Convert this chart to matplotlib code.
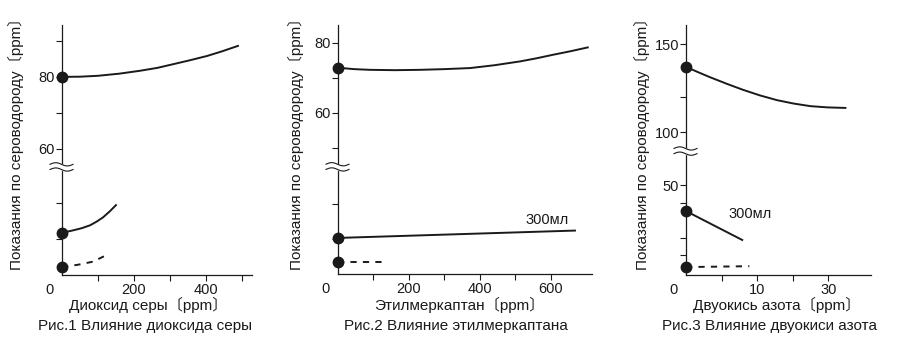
import numpy as np
import matplotlib.pyplot as plt

plt.rcParams["font.family"] = ["Liberation Sans", "Noto Sans CJK JP", "DejaVu Sans"]
plt.rcParams["font.size"] = 10.5
plt.rcParams["text.color"] = "#1a1a1a"

W, H = 901, 343

# Рис.1 - диоксид серы
so2_x = [0, 50, 100, 160, 217, 265, 308, 355, 403, 445, 489]
so2_y = [80, 80.05, 80.3, 80.9, 81.7, 82.5, 83.5, 84.6, 85.8, 87.1, 88.6]
so2_mid_x = [0, 31, 55, 78, 96, 114, 132, 150]
so2_mid_y = [11.7, 12.4, 13.0, 13.8, 14.8, 16.0, 17.6, 19.4]
so2_low_x = [0, 42, 86, 125]
so2_low_y = [2.3, 2.8, 3.7, 5.6]

# Рис.2 - этилмеркаптан
em_x = [0, 45, 90, 160, 231, 300, 372, 440, 513, 560, 606, 655, 704]
em_y = [72.9, 72.5, 72.3, 72.2, 72.3, 72.5, 72.8, 73.6, 74.7, 75.6, 76.6, 77.6, 78.7]
em_mid_x = [0, 668]
em_mid_y = [10.3, 12.4]
em_low_x = [0, 127]
em_low_y = [3.4, 3.4]

# Рис.3 - двуокись азота (x в делениях шкалы)
no2_x = [0, 1.7, 3.4, 5.8, 8.0, 10.4, 12.8, 15.1, 17.5, 19.9, 22.4]
no2_y = [137.1, 134.1, 131.2, 127.4, 124.1, 120.9, 118.2, 116.3, 114.8, 114.1, 113.8]
no2_mid_x = [0, 7.9]
no2_mid_y = [35.2, 18.8]
no2_low_x = [0, 8.9]
no2_low_y = [3.4, 3.9]

ylabel = "Показания по сероводороду〔ppm〕"
xlabels = ["Диоксид серы〔ppm〕", "Этилмеркаптан〔ppm〕", "Двуокись азота〔ppm〕"]
captions = ["Рис.1 Влияние диоксида серы", "Рис.2 Влияние этилмеркаптана",
            "Рис.3 Влияние двуокиси азота"]

INK = "#1a1a1a"


def px_axes(fig, x0, x1, ytop, ybot):
    return fig.add_axes([x0 / W, 1 - ybot / H, (x1 - x0) / W, (ybot - ytop) / H])


def draw_break(ax, yb):
    x0, x1 = ax.get_xlim()
    y0, y1 = ax.get_ylim()
    bb = ax.get_position()
    dx = (x1 - x0) / (bb.width * W)
    dy = (y1 - y0) / (bb.height * H)
    t = np.linspace(-12, 11, 60)
    wave = 1.6 * np.sin(np.pi * (t + 12) / 11.5)
    xs = t * dx
    top = yb + (2.6 + wave) * dy
    bot = yb + (-2.6 + wave) * dy
    ax.fill_between(xs, bot, top, color="white", zorder=4, clip_on=False)
    ax.plot(xs, top, color=INK, lw=0.8, zorder=5, clip_on=False)
    ax.plot(xs, bot, color=INK, lw=0.8, zorder=5, clip_on=False)


def style(ax, xlim, ylim, xt, xtl, yt, ytl):
    ax.set_xlim(*xlim)
    ax.set_ylim(*ylim)
    for s in ["top", "right"]:
        ax.spines[s].set_visible(False)
    for s in ["left", "bottom"]:
        ax.spines[s].set_linewidth(0.9)
        ax.spines[s].set_color(INK)
    ax.set_xticks(xt)
    ax.set_xticklabels(xtl)
    ax.set_yticks(yt)
    ax.set_yticklabels(ytl)
    ax.tick_params(direction="out", length=4, width=0.8, color=INK,
                   labelsize=10.5, labelcolor=INK)
    ax.tick_params(axis="y", pad=1)
    ax.tick_params(axis="x", pad=2)
    ax.annotate("0", xy=(0, 0), xycoords=("data", "axes fraction"),
                xytext=(-9, -6), textcoords="offset points",
                ha="center", va="top", fontsize=10.5, color=INK)


def curve(ax, x, y, dashed=False):
    ax.plot(x, y, color=INK, lw=1.4, ls=(0, (3.2, 3.2)) if dashed else "-",
            clip_on=False, zorder=3)
    ax.plot([x[0]], [y[0]], "o", color=INK, ms=7.5, clip_on=False, zorder=6)


fig = plt.figure(figsize=(W / 100, H / 100), dpi=100)

# ---- Рис.1
off1 = 25
ax1 = px_axes(fig, 62, 252, 25, 275)
style(ax1, (0, 528), (0, 69.4), [100, 200, 300, 400, 500],
      ["", "200", "", "400", ""],
      [10, 20, 60 - off1, 70 - off1, 80 - off1, 90 - off1],
      ["", "", "60", "", "80", ""])
curve(ax1, so2_x, [v - off1 for v in so2_y])
curve(ax1, so2_mid_x, so2_mid_y)
curve(ax1, so2_low_x, so2_low_y, dashed=True)
draw_break(ax1, 30)

# ---- Рис.2
off2 = 14
ax2 = px_axes(fig, 338, 592, 25, 274)
style(ax2, (0, 716), (0, 71.1), [100, 200, 300, 400, 500, 600],
      ["", "200", "", "400", "", "600"],
      [10, 20, 50 - off2, 60 - off2, 70 - off2, 80 - off2],
      ["", "", "", "60", "", "80"])
curve(ax2, em_x, [v - off2 for v in em_y])
curve(ax2, em_mid_x, em_mid_y)
curve(ax2, em_low_x, em_low_y, dashed=True)
ax2.text(589, 15.4, "300мл", ha="center", va="center", fontsize=10.5)
draw_break(ax2, 30.6)

# ---- Рис.3
off3 = 20
ax3 = px_axes(fig, 686, 871, 25, 275)
style(ax3, (0, 26), (-1.1, 140.9), [5, 10, 15, 20],
      ["", "10", "", "30"],
      [10, 20, 40, 50, 100 - off3, 120 - off3, 150 - off3],
      ["", "", "", "50", "100", "", "150"])
curve(ax3, no2_x, [v - off3 for v in no2_y])
curve(ax3, no2_mid_x, no2_mid_y)
curve(ax3, no2_low_x, no2_low_y, dashed=True)
ax3.text(9, 33.5, "300мл", ha="center", va="center", fontsize=10.5)
draw_break(ax3, 69.3)

# подписи
ylab_x = [16, 296, 642]
xlab_x = [148, 459, 777]
cap_x = [145, 456, 769]
for i in range(3):
    fig.text(ylab_x[i] / W, 1 - 140 / H, ylabel, rotation=90,
             ha="center", va="center", fontsize=11)
    fig.text(xlab_x[i] / W, 1 - 305 / H, xlabels[i], ha="center",
             va="center", fontsize=11)
    fig.text(cap_x[i] / W, 1 - 326 / H, captions[i], ha="center",
             va="center", fontsize=11)

fig.savefig("out.png", dpi=100, facecolor="white")
